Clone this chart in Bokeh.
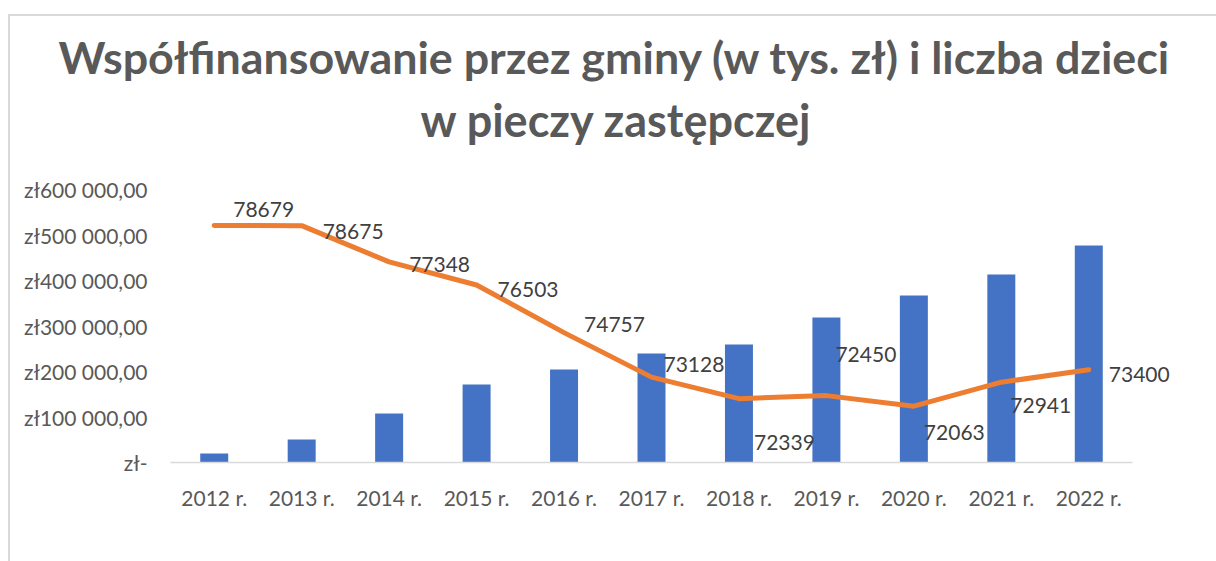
from bokeh.plotting import figure
from bokeh.models import (ColumnDataSource, Range1d, FixedTicker, CustomJSTickFormatter,
                          Legend, LegendItem, Title, Label)
from bokeh.embed import file_html
from bokeh.resources import INLINE

# ---- data ----
years = ["2012 r.", "2013 r.", "2014 r.", "2015 r.", "2016 r.", "2017 r.",
         "2018 r.", "2019 r.", "2020 r.", "2021 r.", "2022 r."]
cofinancing = [20000, 50500, 107500, 171500, 204500, 239500, 259500, 318500, 367000, 413000, 477000]
children = [78679, 78675, 77348, 76503, 74757, 73128, 72339, 72450, 72063, 72941, 73400]
y_ticks = [0, 100000, 200000, 300000, 400000, 500000, 600000]

# label placement (styling, screen px; +dy = downward)
lbl_dx = [19, 21, 20, 21, 20, 12, 15, 9, 10, 9, 20]
lbl_dy = [-16, 6, 3, 5, -8, -13, 44, -41, 26, 23, 5]

FONT = "Lato"
GREY = "#595959"

# category centres on a numeric axis (category i centred at i + 0.5)
xs = [i + 0.5 for i in range(len(years))]
AXIS_W = 962     # px occupied by the categories
FRAME_W = 1010   # frame is a bit wider so the last data label is not clipped

src = ColumnDataSource(dict(x=xs, bar=cofinancing, kids=children))

p = figure(x_range=Range1d(0, len(years) * FRAME_W / AXIS_W), y_range=Range1d(0, 600000),
           frame_width=FRAME_W, frame_height=273,
           min_border_left=160, min_border_right=36, min_border_top=173, min_border_bottom=97,
           output_backend="svg", toolbar_location=None, tools="")
p.margin = (14, 0, 0, 8)
p.styles = {"border-top": "2px solid #d9d9d9", "border-left": "2px solid #d9d9d9"}
p.extra_y_ranges = {"kids": Range1d(70000, 80000)}

p.outline_line_color = None
p.xgrid.grid_line_color = None
p.ygrid.grid_line_color = None

bars = p.vbar(x="x", top="bar", width=0.32, source=src, fill_color="#4472C4", line_color=None)
line = p.line(x="x", y="kids", source=src, y_range_name="kids", line_color="#ED7D31",
              line_width=5, line_cap="round", line_join="round")
for x, v, dx, dy in zip(xs, children, lbl_dx, lbl_dy):
    p.add_layout(Label(x=x, y=v, y_range_name="kids", text=str(v),
                       x_offset=dx, y_offset=-dy, text_align="left", text_baseline="middle",
                       text_font=FONT, text_font_size="21px", text_color="#404040"))

# axes
xa = p.xaxis[0]
xa.ticker = FixedTicker(ticks=xs)
xa.major_label_overrides = dict(zip(xs, years))
xa.bounds = (0, len(years))
xa.axis_line_color = "#d9d9d9"
xa.axis_line_width = 1.5
xa.major_tick_line_color = None
xa.minor_tick_line_color = None
xa.major_tick_out = 0
xa.major_tick_in = 0
xa.major_label_text_font = FONT
xa.major_label_text_font_size = "21px"
xa.major_label_text_color = GREY
xa.major_label_standoff = 22

ya = p.yaxis[0]
ya.axis_line_color = None
ya.major_tick_line_color = None
ya.minor_tick_line_color = None
ya.major_tick_out = 0
ya.major_tick_in = 0
ya.ticker = FixedTicker(ticks=y_ticks)
ya.formatter = CustomJSTickFormatter(code="""
if (tick == 0) { return "zł-"; }
var s = Math.round(tick).toString().replace(/\\B(?=(\\d{3})+(?!\\d))/g, " ");
return "zł" + s + ",00";
""")
ya.major_label_text_font = FONT
ya.major_label_text_font_size = "21px"
ya.major_label_text_color = GREY
ya.major_label_standoff = 23

# titles (first added is closest to the frame)
t2 = Title(text="w pieczy zastępczej", align="left", offset=250,
           text_font=FONT, text_font_size="45px", text_font_style="bold",
           text_color=GREY, standoff=85)
t1 = Title(text="Współfinansowanie przez gminy (w tys. zł) i liczba dzieci", align="left",
           offset=-112, text_font=FONT, text_font_size="44.8px", text_font_style="bold",
           text_color=GREY, standoff=-70, text_line_height=0.7)
p.add_layout(t2, "above")
p.add_layout(t1, "above")

legend = Legend(items=[LegendItem(label="współfinansowanie (w tys. zł)", renderers=[bars]),
                       LegendItem(label="liczba dzieci w pieczy zastępczej", renderers=[line])],
                orientation="horizontal", location="top_left",
                glyph_width=49, glyph_height=14, label_standoff=5, spacing=34,
                padding=0, margin=20, border_line_color=None, background_fill_alpha=0,
                label_text_font=FONT, label_text_font_size="21px", label_text_color=GREY)
p.add_layout(legend, "below")

open("out.html", "w").write(file_html(p, INLINE))
